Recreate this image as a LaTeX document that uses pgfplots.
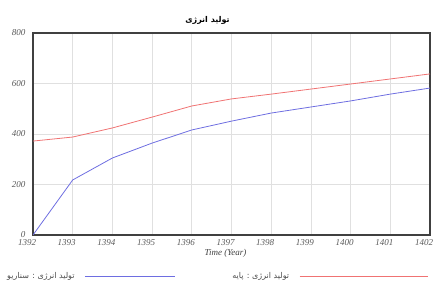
\documentclass[border=0pt]{standalone}
\usepackage{fontspec}
\setmainfont{Liberation Serif}
\newfontfamily\arabicfont[Script=Arabic]{DejaVu Sans}
\TeXXeTstate=1
\usepackage{pgfplots}
\pgfplotsset{compat=1.18}
\definecolor{bl}{RGB}{110,110,225}
\definecolor{rd}{RGB}{240,115,115}
\begin{document}
\begin{tikzpicture}
\begin{axis}[
  scale only axis, width=397pt, height=202pt,
  xmin=1392, xmax=1402, ymin=0, ymax=800,
  xtick={1392,1393,...,1402}, ytick={0,200,400,600,800},
  grid=major, grid style={black!12, line width=0.8pt},
  axis line style={black!75, line width=1.3pt},
  tick style={draw=none},
  /pgf/number format/assume math mode=true,
  ticklabel style={font=\itshape\small, text=black!65},
  xticklabel style={/pgf/number format/1000 sep={}, yshift=-1pt, xshift=-6pt},
  yticklabel style={xshift=-4pt},
  xlabel={\itshape Time (Year)}, xlabel style={font=\small, text=black!75, yshift=3pt, xshift=-6pt},
  title={\arabicfont\bfseries\footnotesize\beginR تولید انرژی\endR},
  title style={yshift=-1pt, xshift=-24pt},
  legend columns=2,
  legend plot pos=right,
  legend style={draw=none, fill=none, font=\arabicfont\footnotesize, text=black!70,
    at={(-0.078,-0.205)}, anchor=west, /tikz/every even column/.append style={column sep=55pt}},
]
\addplot[bl, line width=0.8pt, legend image code/.code={\path (0pt,0pt); \draw[bl, line width=0.8pt] (8pt,0pt) -- (98pt,0pt);}] coordinates {
(1392,0) (1393,218) (1394,305) (1395,364) (1396,416) (1397,451)
(1398,483) (1399,507) (1400,531) (1401,558) (1402,582)};
\addlegendentry{\beginR تولید انرژی : سناریو\endR}
\addplot[rd, line width=0.8pt, legend image code/.code={\path (0pt,0pt); \draw[rd, line width=0.8pt] (8pt,0pt) -- (136pt,0pt);}] coordinates {
(1392,372) (1393,388) (1394,424) (1395,467) (1396,511) (1397,539)
(1398,558) (1399,578) (1400,598) (1401,618) (1402,638)};
\addlegendentry{\beginR تولید انرژی : پایه\endR}
\end{axis}
\pgfresetboundingbox
\path (-33pt,-49pt) rectangle (409pt,235pt);
\end{tikzpicture}
\end{document}
